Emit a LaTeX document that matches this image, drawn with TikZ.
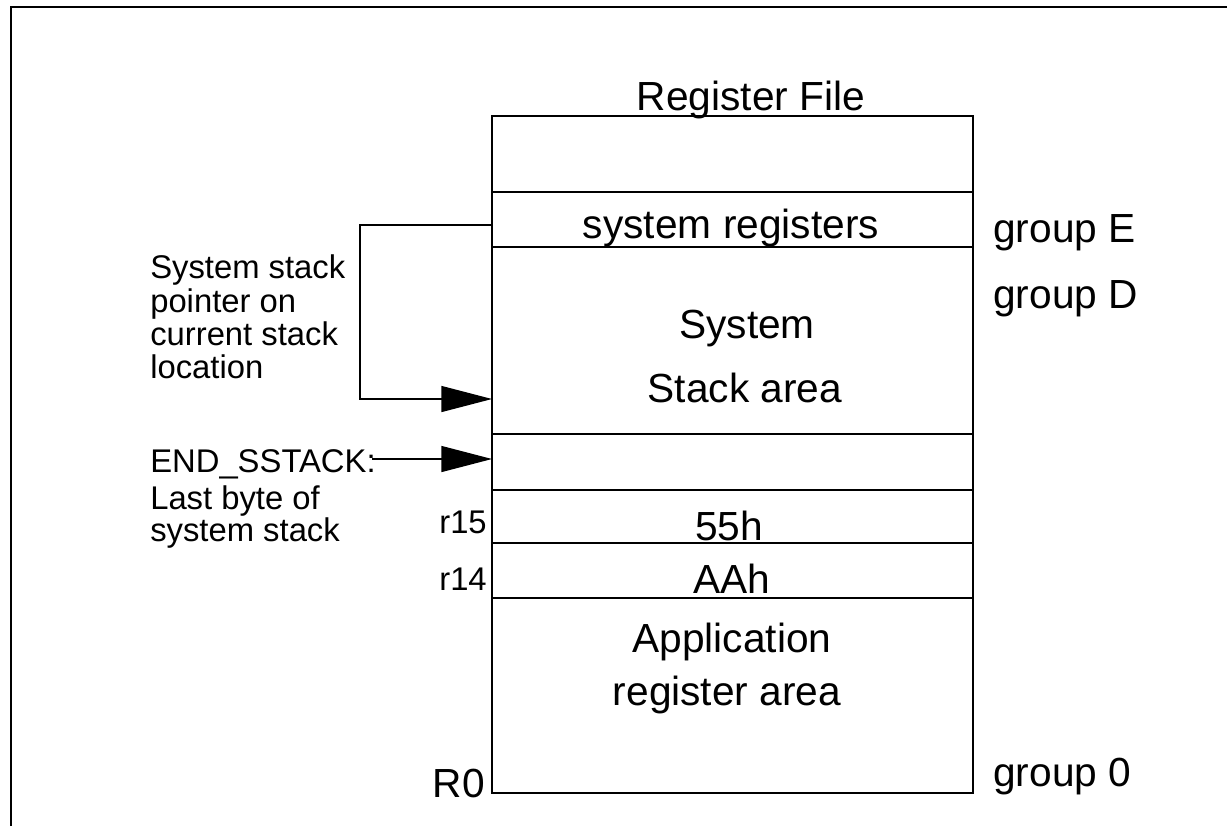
\documentclass[tikz,border=0pt]{standalone}
\usepackage{fontspec}
\setmainfont{Liberation Sans}
\usetikzlibrary{arrows.meta}
\tikzset{
  band/.style={draw, line width=1.1pt, inner sep=0pt, outer sep=0pt,
    minimum width=360.75pt, anchor=north west},
  big/.style={font=\fontsize{30.5}{36}\selectfont, inner sep=0pt},
  small/.style={font=\fontsize{24.6}{30}\selectfont, inner sep=0pt},
  conn/.style={line width=1pt},
  tip/.style={conn, -{Triangle[length=38pt,width=19.5pt]}},
}
\begin{document}
\begin{tikzpicture}[x=0.75pt,y=-0.75pt]
\useasboundingbox (0,0) rectangle (1227,826);
% frame
\draw[line width=1.6pt] (11,826) -- (11,7) -- (1227,7);
% register bands
\node[band, minimum height=57pt]    (top)    at (492,116) {};
\node[band, minimum height=41.25pt] (sysreg) at (top.south west) {};
\node[band, minimum height=140.25pt](stack)  at (sysreg.south west) {};
\node[band, minimum height=42pt]    (endss)  at (stack.south west) {};
\node[band, minimum height=39.75pt] (rf)     at (endss.south west) {};
\node[band, minimum height=41.25pt] (re)     at (rf.south west) {};
\node[band, minimum height=146.25pt](app)    at (re.south west) {};
% texts in the register file
\node[big, anchor=base] (title) at (751,110) {Register File};
\node[big, anchor=base] (tsys) at (731,238) {system registers};
\node[big, anchor=base] (tst1) at (747,338) {System};
\node[big, anchor=base] (tst2) at (745,402) {Stack area};
\node[big, anchor=base] (t55) at (729,540) {55h};
\node[big, anchor=base] (tAA) at (732,593) {AAh};
\node[big, anchor=base] (tap1) at (732,652) {Application};
\node[big, anchor=base] (tap2) at (727,705) {register area};
% group labels
\node[big, anchor=base west] (gE) at (993,242) {group E};
\node[big, anchor=base west] (gD) at (993,308) {group D};
\node[big, anchor=base west] (g0) at (993,786) {group 0};
% left labels
\node[small, anchor=base west] (l1) at (150,278) {System stack};
\node[small, anchor=base west] (l2) at (150,312) {pointer on};
\node[small, anchor=base west] (l3) at (150,345) {current stack};
\node[small, anchor=base west] (l4) at (150,378) {location};
\node[small, anchor=base west] (e1) at (150,472) {END\_SSTACK:};
\node[small, anchor=base west] (e2) at (150,509) {Last byte of};
\node[small, anchor=base west] (e3) at (150,541) {system stack};
\node[small, anchor=base east] (r15) at (487,533) {r15};
\node[small, anchor=base east] (r14) at (487,590) {r14};
\node[big, anchor=base east] (r0) at (485,797) {R0};
% connectors
\coordinate (spA) at (492,225);
\coordinate (spB) at (360,225);
\coordinate (spC) at (492,399);
\draw[tip] (spA) -- (spB) |- (spC);
\coordinate (esA) at (372,459);
\coordinate (esB) at (492,459);
\draw[tip] (esA) -- (esB);
\end{tikzpicture}
\end{document}
